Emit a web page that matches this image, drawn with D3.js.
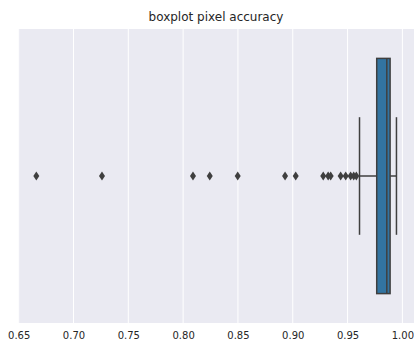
<!DOCTYPE html>
<html>
<head>
<meta charset="utf-8">
<script src="https://cdn.jsdelivr.net/npm/d3@7"></script>
<style>
body { margin: 0; background: #fff; }
text { font-family: "DejaVu Sans", sans-serif; }
</style>
</head>
<body>
<script>
// summary stats
var boxStats = { q1: 0.9766, median: 0.9858, q3: 0.9888, low: 0.9609, high: 0.9946 };
var outliers = [0.6661, 0.726, 0.809, 0.8243, 0.8498, 0.893, 0.9027,
	0.9278, 0.9323, 0.9346, 0.9437, 0.9483, 0.9528, 0.9556, 0.958];
var ticks = [0.65, 0.70, 0.75, 0.80, 0.85, 0.90, 0.95, 1.00];

var width = 414,
	height = 344,
	margin = {top: 29, right: 0, bottom: 21, left: 18};

var svg = d3.select("body").append("svg")
		.attr("width", width)
		.attr("height", height);

var x = d3.scaleLinear()
		.domain([0.6494, 1.0106])
		.range([margin.left, width - margin.right]);

var y = d3.scaleBand()
		.domain(["a"])
		.range([margin.top, height - margin.bottom]);

svg.append("rect")
		.attr("x", margin.left)
		.attr("y", margin.top)
		.attr("width", width - margin.left - margin.right)
		.attr("height", height - margin.top - margin.bottom)
		.attr("fill", "#eaeaf2");

svg.selectAll("line.grid")
		.data(ticks)
	.enter().append("line")
		.attr("class", "grid")
		.attr("x1", function(d){ return x(d); })
		.attr("x2", function(d){ return x(d); })
		.attr("y1", margin.top)
		.attr("y2", height - margin.bottom)
		.attr("stroke", "#fff")
		.attr("stroke-width", 1);

var axis = d3.axisBottom(x)
		.tickValues(ticks)
		.tickFormat(d3.format(".2f"))
		.tickSize(0)
		.tickPadding(9);

var gx = svg.append("g")
		.attr("transform", "translate(0," + (height - margin.bottom) + ")")
		.call(axis);
gx.select(".domain").remove();
gx.selectAll("text")
		.attr("font-size", 10)
		.attr("fill", "#262626");

var cy = y("a") + y.bandwidth() / 2,
	boxH = y.bandwidth() * 0.8,
	capH = boxH / 2,
	ink = "#3f3f3f";

// whiskers
svg.append("line")
		.attr("x1", x(boxStats.low)).attr("x2", x(boxStats.q1))
		.attr("y1", cy).attr("y2", cy)
		.attr("stroke", ink).attr("stroke-width", 1.5);
svg.append("line")
		.attr("x1", x(boxStats.q3)).attr("x2", x(boxStats.high))
		.attr("y1", cy).attr("y2", cy)
		.attr("stroke", ink).attr("stroke-width", 1.5);
[boxStats.low, boxStats.high].forEach(function(d){
	svg.append("line")
			.attr("x1", x(d)).attr("x2", x(d))
			.attr("y1", cy - capH / 2).attr("y2", cy + capH / 2)
			.attr("stroke", ink).attr("stroke-width", 1.5);
});

svg.append("rect")
		.attr("x", x(boxStats.q1))
		.attr("y", cy - boxH / 2)
		.attr("width", x(boxStats.q3) - x(boxStats.q1))
		.attr("height", boxH)
		.attr("fill", "#3274a1")
		.attr("stroke", ink)
		.attr("stroke-width", 1.5);

svg.append("line")
		.attr("x1", x(boxStats.median)).attr("x2", x(boxStats.median))
		.attr("y1", cy - boxH / 2).attr("y2", cy + boxH / 2)
		.attr("stroke", ink).attr("stroke-width", 1.5);

svg.selectAll("path.flier")
		.data(outliers)
	.enter().append("path")
		.attr("class", "flier")
		.attr("d", "M0,-4.5L3,0L0,4.5L-3,0Z")
		.attr("transform", function(d){ return "translate(" + x(d) + "," + cy + ")"; })
		.attr("fill", ink);

svg.append("text")
		.attr("x", (margin.left + width - margin.right) / 2)
		.attr("y", 21)
		.attr("text-anchor", "middle")
		.attr("font-size", 12)
		.attr("fill", "#262626")
		.text("boxplot pixel accuracy");
</script>
</body>
</html>
